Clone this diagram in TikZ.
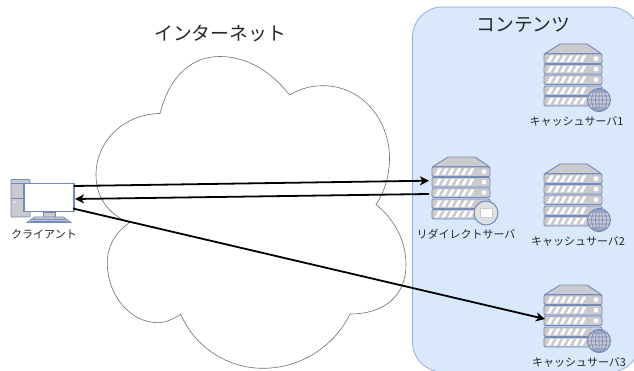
\documentclass[tikz,border=0pt]{standalone}
\usepackage{fontspec}
\newfontfamily\cjk{Noto Sans CJK JP}
\usetikzlibrary{arrows.meta}
\definecolor{iconline}{HTML}{7289BC}
\definecolor{icongrey}{HTML}{CBCBCF}
\definecolor{panel}{HTML}{DAE8FC}
\definecolor{panelline}{HTML}{8FA9D2}
\definecolor{cloudline}{HTML}{707070}
\tikzset{
  slat/.style={draw=iconline,fill=icongrey,line width=0.9pt,rounded corners=1.2pt},
  iconpart/.style={draw=iconline,fill=icongrey,line width=0.9pt},
  titletext/.style={font=\cjk\fontsize{18.8}{22}\selectfont,text=black!85,inner sep=0pt},
  lbl/.style={font=\cjk\fontsize{11}{13}\selectfont,text=black!85,inner sep=0pt},
  conn/.style={draw=black,line width=1.8pt,-{Stealth[length=9pt,width=9pt,inset=2.5pt]}},
  serverpic/.pic={
    \path[iconpart] (1,9.5) -- (16,0) -- (43,0) -- (57,9.5) -- cycle;
    \foreach \yy in {10,20.5,31,42,52.5}{
      \path[slat] (0,\yy) rectangle (58,\yy+9.5);
      \foreach \k in {0,...,5}
        \fill[white] (3+\k*6.5,\yy+8) -- (6.5+\k*6.5,\yy+1.5) -- (9.7+\k*6.5,\yy+1.5) -- (6.2+\k*6.5,\yy+8) -- cycle;
      \fill[white] (52,\yy+4.7) circle (2.4);
    }
  },
  globepic/.pic={
    \path[draw=iconline,fill=icongrey,line width=1pt] (0,0) circle (11.5);
    \draw[iconline,line width=0.7pt] (0,0) ellipse (3.5 and 11.5) (0,0) ellipse (7.5 and 11.5) (0,-11.5) -- (0,11.5) (-11.5,0) -- (11.5,0)
      (-10.8,-4) -- (10.8,-4) (-10.8,4) -- (10.8,4) (-8,-8) -- (8,-8) (-8,8) -- (8,8);
  }
}
\begin{document}
\begin{tikzpicture}[x=1pt,y=-1pt]
\useasboundingbox (0,0) rectangle (634,371);
\fill[white] (0,0) rectangle (634,371);
% panel
\path[draw=panelline,fill=panel,line width=0.7pt,rounded corners=30pt] (412.5,7) rectangle (640,372);
\node[titletext] (inet) at (220,34) {インターネット};
\node[titletext] (cont) at (523.5,25) {コンテンツ};
% cloud
\path[draw=cloudline,line width=0.6pt,fill=white]
  (160,113.5) .. controls (170,75) and (192,56.5) .. (220,56.5)
  .. controls (247,56.5) and (272,72) .. (289.5,95)
  .. controls (300,89) and (310,85.7) .. (323,85.7)
  .. controls (362,85.7) and (389.5,120) .. (389.5,158)
  .. controls (389.5,175) and (385,191) .. (376,204.5)
  .. controls (394,219) and (406,240) .. (406,265)
  .. controls (406,295) and (385,314) .. (350,314)
  .. controls (334,347) and (300,368.3) .. (263,368.3)
  .. controls (227,368.3) and (195,347) .. (180.7,314.3)
  .. controls (173,319) and (166,322.7) .. (158,322.7)
  .. controls (130,322.7) and (107.3,295) .. (107.3,263)
  .. controls (107.3,246) and (115,233) .. (129.3,222.7)
  .. controls (108,214) and (96,197) .. (96,175)
  .. controls (96,140) and (125,114) .. (160,113.5) -- cycle;
% client
\path[iconpart,rounded corners=1pt] (11,179.5) rectangle (30,217);
\draw[iconline,line width=0.9pt] (11,183) -- (30,183) (11,198) -- (30,198);
\fill[white] (14.5,202) circle (1.1);
\path[iconpart] (43,212) rectangle (55,217);
\path[iconpart] (27,222.5) -- (35,217) -- (63,217) -- (71,222.5) -- cycle;
\draw[iconline,line width=0.5pt] (33,219) -- (65,219) (31,221) -- (67,221);
\path[draw=iconline,fill=white,line width=1.2pt] (24,183.5) rectangle (74,211.5);
\node[lbl] (clientlabel) at (44,234) {クライアント};
\coordinate (clientA) at (74,186);
\coordinate (clientB) at (75,199);
\coordinate (clientC) at (73,208.5);
% servers
\pic at (432,157) {serverpic};
\pic at (544,44) {serverpic};
\pic at (544,164) {serverpic};
\pic at (544,285) {serverpic};
\pic at (599,100) {globepic};
\pic at (599,220) {globepic};
\pic at (599,341) {globepic};
% monitor badge
\path[draw=iconline,fill=icongrey!60!white,line width=1pt] (486,213) circle (12);
\path[draw=icongrey,fill=white,line width=0.8pt] (480.5,208) rectangle (492.5,217.5);
\node[lbl] (redirectlabel) at (466,234) {リダイレクトサーバ};
\node[lbl] (cache1) at (576.5,121) {キャッシュサーバ1};
\node[lbl] (cache2) at (578,241) {キャッシュサーバ2};
\node[lbl] (cache3) at (579,362) {キャッシュサーバ3};
\coordinate (redirectA) at (429,180.7);
\coordinate (redirectB) at (429,194);
\coordinate (cacheC) at (545,319);
\draw[conn] (clientA) -- (redirectA);
\draw[conn] (redirectB) -- (clientB);
\draw[conn] (clientC) -- (cacheC);
\end{tikzpicture}
\end{document}
